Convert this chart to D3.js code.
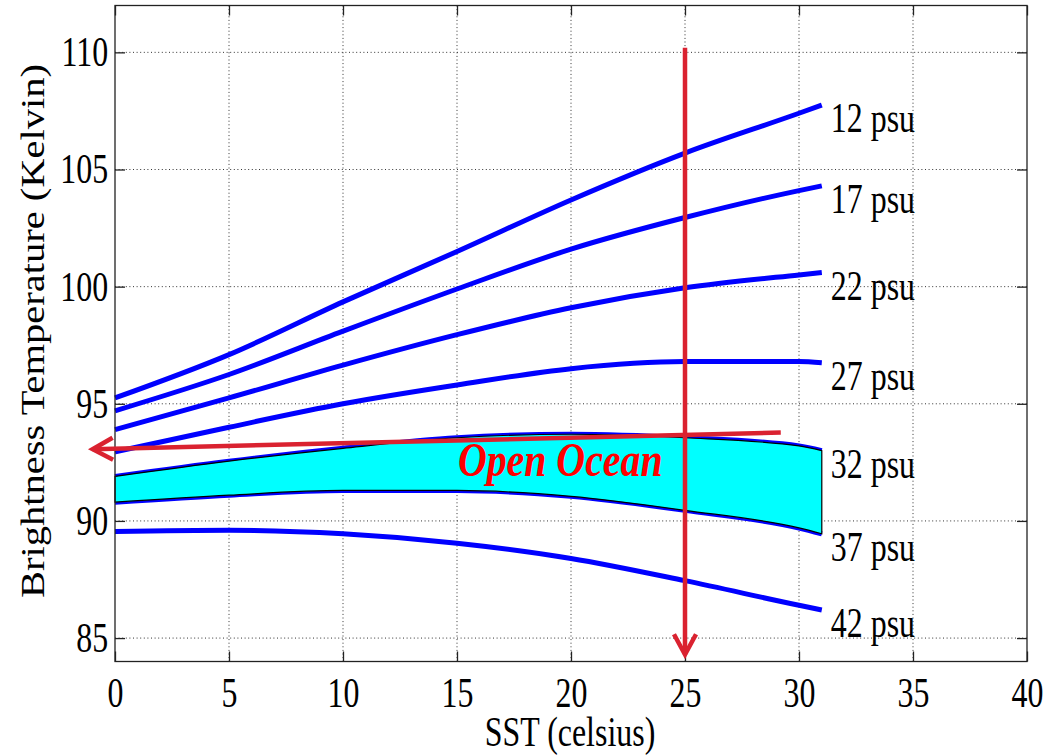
<!DOCTYPE html>
<html>
<head>
<meta charset="utf-8">
<script src="https://cdn.jsdelivr.net/npm/d3@7"></script>
<style>
  body { margin: 0; background: #fff; }
  svg text { font-family: "Liberation Serif", "Times New Roman", serif; fill: #000; }
</style>
</head>
<body>
<svg id="chart" width="1048" height="756"></svg>
<script>
// data
var sst = [0, 5, 10, 15, 20, 25, 30, 31];
var salinities = [12, 17, 22, 27, 32, 37, 42];
var tb12 = [95.25, 97.1, 99.35, 101.5, 103.7, 105.7, 107.4, 107.75];
var tb17 = [94.7, 96.25, 98.1, 99.9, 101.6, 102.95, 104.1, 104.3];
var tb22 = [93.9, 95.25, 96.65, 97.95, 99.1, 99.95, 100.5, 100.6];
var tb27 = [92.95, 94.0, 95.0, 95.8, 96.5, 96.8, 96.8, 96.75];
var tb32 = [91.9, 92.55, 93.1, 93.55, 93.7, 93.55, 93.2, 93.0];
var tb37 = [90.8, 91.1, 91.3, 91.3, 91.05, 90.45, 89.7, 89.45];
var tb42 = [89.55, 89.6, 89.45, 89.05, 88.4, 87.45, 86.4, 86.2];
var curves = [tb12, tb17, tb22, tb27, tb32, tb37, tb42];

var xTicks = [0, 5, 10, 15, 20, 25, 30, 35, 40];
var yTicks = [85, 90, 95, 100, 105, 110];

// red annotation arrows: [sst, Tb] from -> to (tip)
var arrows = [
    {from: [25, 110.2], to: [25, 84.3]},
    {from: [29.2, 93.77], to: [-0.98, 93.06]}
];
var oceanLabel = {text: "Open Ocean", at: [15.04, 91.92]};

//////////////////////////////////////////////////////////////////////////////

var svg = d3.select("#chart");
var pLeft = 115, pRight = 1027, pTop = 5.5, pBottom = 661.5;
var squeeze = "scale(0.76,1)";   // the figure's text is narrow

var xScale = d3.scaleLinear().domain([0, 40]).range([pLeft, pRight]);
var yScale = d3.scaleLinear().domain([84, 112]).range([pBottom, pTop]);

// dotted grid
var grid = svg.append("g")
    .attr("stroke", "#333").attr("stroke-width", 1).attr("stroke-dasharray", "1,2.6");
grid.selectAll("line.gx").data(xTicks.slice(1, -1)).enter().append("line")
    .attr("x1", d => xScale(d)).attr("x2", d => xScale(d))
    .attr("y1", pTop).attr("y2", pBottom);
grid.selectAll("line.gy").data(yTicks).enter().append("line")
    .attr("x1", pLeft).attr("x2", pRight)
    .attr("y1", d => yScale(d)).attr("y2", d => yScale(d));

// blue curves
var line = d3.line()
    .x(function(d, i) { return xScale(sst[i]); })
    .y(function(d) { return yScale(d); })
    .curve(d3.curveMonotoneX);

svg.append("g").selectAll("path").data(curves).enter().append("path")
    .attr("d", line)
    .attr("fill", "none")
    .attr("stroke", "#0000ff")
    .attr("stroke-width", 5);

// open ocean band between 32 and 37 psu
var band = d3.area()
    .x(function(d, i) { return xScale(sst[i]); })
    .y0(function(d, i) { return yScale(tb37[i]); })
    .y1(function(d) { return yScale(d); })
    .curve(d3.curveMonotoneX);

svg.append("path")
    .attr("d", band(tb32))
    .attr("fill", "#00ffff")
    .attr("stroke", "#000")
    .attr("stroke-width", 1.2);

// frame and ticks
svg.append("rect")
    .attr("x", pLeft).attr("y", pTop)
    .attr("width", pRight - pLeft).attr("height", pBottom - pTop)
    .attr("fill", "none").attr("stroke", "#222").attr("stroke-width", 1.3);

function styleAxis(g) {
    g.select(".domain").remove();
    g.selectAll(".tick line").attr("stroke", "#222").attr("stroke-width", 1.3);
    g.selectAll(".tick text").attr("font-size", 42).attr("fill", "#000")
        .attr("font-family", "Liberation Serif, Times New Roman, serif");
}

svg.append("g").attr("transform", "translate(0," + pBottom + ")")
    .call(d3.axisBottom(xScale).tickValues(xTicks).tickSize(-10).tickPadding(16))
    .call(styleAxis)
    .selectAll(".tick text").attr("transform", squeeze);
svg.append("g").attr("transform", "translate(0," + pTop + ")")
    .call(d3.axisTop(xScale).tickValues(xTicks).tickSize(-10).tickFormat(""))
    .call(styleAxis);
svg.append("g").attr("transform", "translate(" + pLeft + ",0)")
    .call(d3.axisLeft(yScale).tickValues(yTicks).tickSize(-10).tickPadding(9))
    .call(styleAxis)
    .selectAll(".tick text").attr("transform", squeeze);
svg.append("g").attr("transform", "translate(" + pRight + ",0)")
    .call(d3.axisRight(yScale).tickValues(yTicks).tickSize(-10).tickFormat(""))
    .call(styleAxis);

// salinity labels at the end of each curve
svg.append("g").selectAll("text").data(salinities).enter().append("text")
    .attr("transform", function(d, i) {
        var c = curves[i];
        return "translate(" + (xScale(sst[sst.length - 1]) + 9) + "," +
            (yScale(c[c.length - 1]) + 27) + ") " + squeeze;
    })
    .attr("font-size", 42)
    .text(d => d + " psu");

// red arrows
var arrowG = svg.append("g")
    .attr("stroke", "#da2230").attr("stroke-width", 4.5)
    .attr("fill", "none").attr("stroke-linecap", "butt");
arrows.forEach(function(a) {
    var x0 = xScale(a.from[0]), y0 = yScale(a.from[1]);
    var x1 = xScale(a.to[0]), y1 = yScale(a.to[1]);
    var ang = Math.atan2(y0 - y1, x0 - x1);
    var len = 23, spread = 0.5;
    arrowG.append("line")
        .attr("x1", x0).attr("y1", y0).attr("x2", x1).attr("y2", y1);
    arrowG.append("path")
        .attr("stroke-linejoin", "miter")
        .attr("d", "M" + (x1 + len * Math.cos(ang + spread)) + "," + (y1 + len * Math.sin(ang + spread)) +
            "L" + x1 + "," + y1 +
            "L" + (x1 + len * Math.cos(ang - spread)) + "," + (y1 + len * Math.sin(ang - spread)));
});

svg.append("text")
    .attr("transform", "translate(" + xScale(oceanLabel.at[0]) + "," + yScale(oceanLabel.at[1]) + ") scale(0.83,1)")
    .attr("font-size", 48)
    .attr("font-weight", "bold")
    .attr("font-style", "italic")
    .style("fill", "#ff0000")
    .text(oceanLabel.text);

// axis titles
svg.append("text")
    .attr("transform", "translate(" + ((pLeft + pRight) / 2 - 1) + ",746) " + squeeze)
    .attr("text-anchor", "middle")
    .attr("font-size", 42)
    .text("SST (celsius)");

svg.append("text")
    .attr("transform", "translate(44," + 331 + ") scale(0.84,1) rotate(-90)")
    .attr("text-anchor", "middle")
    .attr("font-size", 40.5)
    .text("Brightness Temperature (Kelvin)");
</script>
</body>
</html>
